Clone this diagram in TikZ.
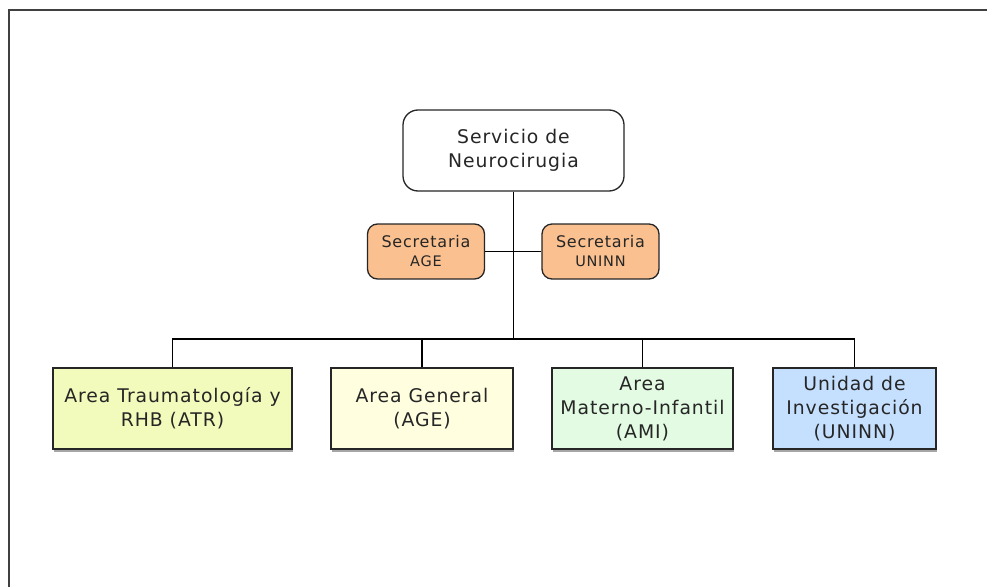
\documentclass[tikz,border=0pt]{standalone}
\usepackage{fontspec}
\setmainfont{DejaVu Sans}[LetterSpace=5]
\begin{document}
\begin{tikzpicture}[x=1pt,y=-1pt,
  box/.style={draw=black!85,line width=1.3pt,align=center,text=black!85,
    font=\fontsize{18.8}{24}\selectfont,inner sep=0pt},
  topbox/.style={box,rounded corners=15pt,fill=white,minimum width=221pt,minimum height=81pt},
  secbox/.style={box,rounded corners=10pt,fill=secorange,minimum width=117pt,minimum height=55pt,
    font=\fontsize{16}{19}\selectfont},
  areabox/.style={box,minimum height=81pt},
  conn/.style={draw=black,line width=1.9pt},
  framestyle/.style={draw=black!75,line width=2pt}]
\definecolor{secorange}{RGB}{250,192,143}
\definecolor{atrfill}{RGB}{242,250,188}
\definecolor{agefill}{RGB}{255,255,224}
\definecolor{amifill}{RGB}{226,251,226}
\definecolor{uninnfill}{RGB}{197,224,255}
\useasboundingbox (0,0) rectangle (987,586);
\draw[framestyle] (8.5,590) -- (8.5,10) -- (990,10);

\node[topbox] (top) at (513.5,150.5) {Servicio de\\Neurocirugia};
\node[secbox] (sage) at (426,251.5) {Secretaria\\{\fontsize{14.5}{16}\selectfont AGE}};
\node[secbox] (suninn) at (600.5,251.5) {Secretaria\\{\fontsize{14.5}{16}\selectfont UNINN}};

\fill[black!35] (53.5,450) rectangle (292.5,451.5);
\fill[black!35] (331.5,450) rectangle (513.5,451.5);
\fill[black!35] (552.5,450) rectangle (733.5,451.5);
\fill[black!35] (773.5,450) rectangle (936.5,451.5);
\node[areabox,fill=atrfill,minimum width=239pt] (atr) at (172.5,408.5) {Area Traumatología y\\RHB (ATR)};
\node[areabox,fill=agefill,minimum width=182pt] (age) at (422,408.5) {Area General\\(AGE)};
\node[areabox,fill=amifill,minimum width=181pt] (ami) at (642.5,408.5) {Area\\Materno-Infantil\\(AMI)};
\node[areabox,fill=uninnfill,minimum width=163pt] (uninn) at (854.5,408.5) {Unidad de\\Investigación\\(UNINN)};

\coordinate (bus) at (513.5,339);
\draw[conn] (top.south) -- (bus);
\draw[conn] (sage.east) -- (suninn.west);
\draw[conn] (atr.north) |- (bus) -| (uninn.north);
\draw[conn] (age.north) -- (age.north |- bus);
\draw[conn] (ami.north) -- (ami.north |- bus);
\end{tikzpicture}
\end{document}
